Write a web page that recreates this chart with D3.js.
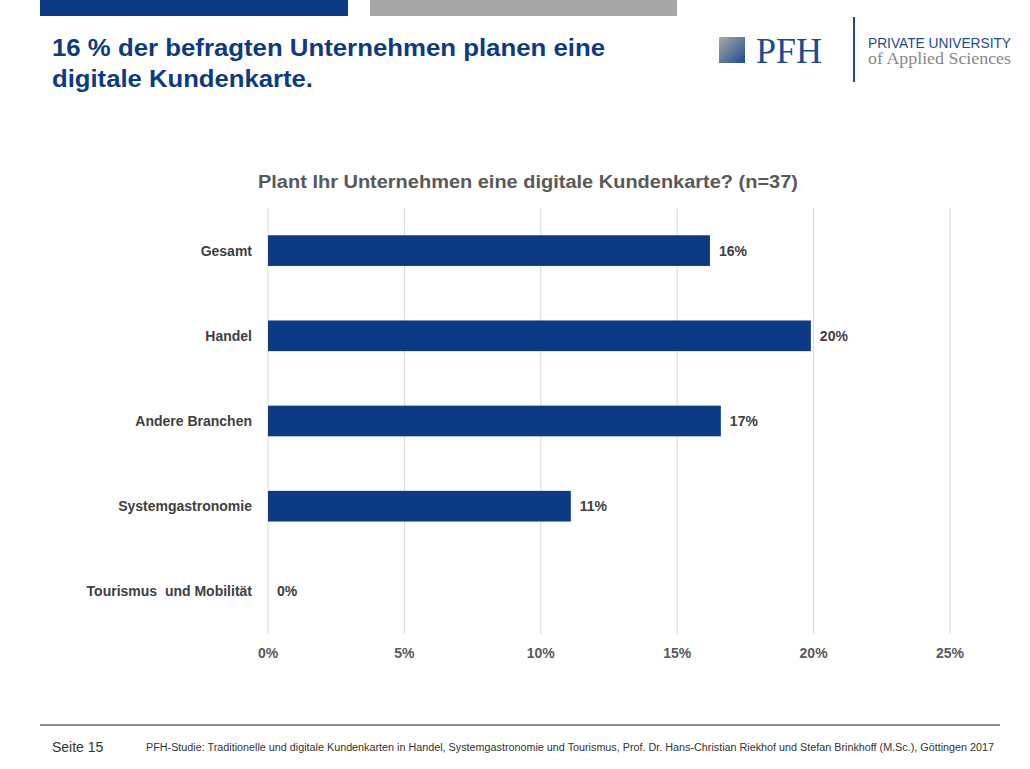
<!DOCTYPE html><html><head><meta charset="utf-8"><script src="https://d3js.org/d3.v7.min.js"></script>
<style>body{margin:0;background:#fff}</style></head><body>
<svg id="c" width="1030" height="769" style="font-family:'Liberation Sans',Arial,sans-serif"></svg>
<script>
const categories=["Gesamt","Handel","Andere Branchen","Systemgastronomie","Tourismus  und Mobilität"];
const values=[16.2,19.9,16.6,11.1,0];
const labels=["16%","20%","17%","11%","0%"];
const ticks=[0,5,10,15,20,25];
const svg=d3.select("#c");
const blue="#0c3a84";
svg.append("rect").attr("x",40).attr("y",0).attr("width",308).attr("height",16).attr("fill","#0c3a84");
svg.append("rect").attr("x",370).attr("y",0).attr("width",307).attr("height",16).attr("fill","#a6a6a6");
svg.append("text").attr("x",52).attr("y",56).attr("font-size",24).attr("font-weight","bold").attr("fill","#0c3a84").attr("textLength",553).attr("lengthAdjust","spacingAndGlyphs").text("16 % der befragten Unternehmen planen eine");
svg.append("text").attr("x",52).attr("y",87).attr("font-size",24).attr("font-weight","bold").attr("fill","#0c3a84").attr("textLength",261).attr("lengthAdjust","spacingAndGlyphs").text("digitale Kundenkarte.");
const lg=svg.append("linearGradient").attr("id","g").attr("x1",0).attr("y1",0).attr("x2",1).attr("y2",1);
lg.append("stop").attr("offset","0").attr("stop-color","#aaa");lg.append("stop").attr("offset","1").attr("stop-color","#1c4a90");
svg.append("rect").attr("x",719).attr("y",37).attr("width",26).attr("height",26).attr("fill","url(#g)");
svg.append("text").attr("x",756).attr("y",63).attr("font-size",36).style("font-family","'Liberation Serif',serif").attr("fill","#1c4a90").text("PFH");
svg.append("line").attr("x1",854).attr("x2",854).attr("y1",17).attr("y2",82).attr("stroke","#1c4a90").attr("stroke-width",2);
svg.append("text").attr("x",868).attr("y",48).attr("font-size",15).attr("fill","#1c4a90").attr("textLength",143).attr("lengthAdjust","spacingAndGlyphs").text("PRIVATE UNIVERSITY");
svg.append("text").attr("x",868).attr("y",64).attr("font-size",16).attr("fill","#888").attr("textLength",143).attr("lengthAdjust","spacingAndGlyphs").style("font-family","'Liberation Serif',serif").text("of Applied Sciences");
svg.append("text").attr("x",258).attr("y",188).attr("font-size",18).attr("font-weight","bold").attr("fill","#595959").attr("textLength",540).attr("lengthAdjust","spacingAndGlyphs").text("Plant Ihr Unternehmen eine digitale Kundenkarte? (n=37)");
const x=d3.scaleLinear().domain([0,25]).range([268,950]);
const y=d3.scaleBand().domain(categories).range([208,634]).paddingInner(0.64).paddingOuter(0.32);
const g=svg.append("g");
g.selectAll(".gl").data(ticks).join("line").attr("x1",d=>x(d)).attr("x2",d=>x(d)).attr("y1",208).attr("y2",634).attr("stroke","#d9d9d9");
g.selectAll(".b").data(values).join("rect").attr("x",x(0)).attr("y",(d,i)=>y(categories[i])).attr("width",d=>x(d)-x(0)).attr("height",y.bandwidth()).attr("fill",blue);
g.selectAll(".v").data(values).join("text").attr("x",d=>x(d)+9).attr("y",(d,i)=>y(categories[i])+y.bandwidth()/2+5).attr("font-size",14).attr("font-weight","bold").attr("fill","#404040").text((d,i)=>labels[i]);
g.selectAll(".c").data(categories).join("text").attr("x",252).attr("y",d=>y(d)+y.bandwidth()/2+5).attr("text-anchor","end").attr("font-size",14).attr("font-weight","bold").attr("fill","#404040").style("white-space","pre").text(d=>d);
g.selectAll(".t").data(ticks).join("text").attr("x",d=>x(d)).attr("y",658).attr("text-anchor","middle").attr("font-size",14).attr("font-weight","bold").attr("fill","#595959").text(d=>d+"%");
svg.append("line").attr("x1",40).attr("x2",1000).attr("y1",725).attr("y2",725).attr("stroke","#666").attr("stroke-width",1.5);
svg.append("text").attr("x",52).attr("y",752).attr("font-size",14).attr("fill","#333").text("Seite 15");
svg.append("text").attr("x",146).attr("y",751).attr("font-size",10).attr("fill","#333").attr("textLength",848).attr("lengthAdjust","spacingAndGlyphs").text("PFH-Studie: Traditionelle und digitale Kundenkarten in Handel, Systemgastronomie und Tourismus, Prof. Dr. Hans-Christian Riekhof und Stefan Brinkhoff (M.Sc.), Göttingen 2017");
</script></body></html>
